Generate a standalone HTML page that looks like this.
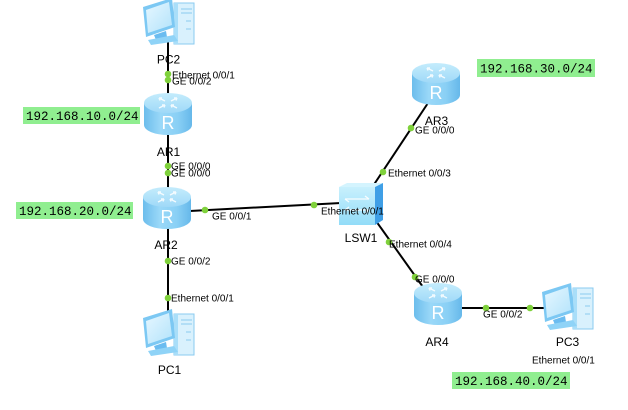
<!DOCTYPE html>
<html><head><meta charset="utf-8"><style>
html,body{margin:0;padding:0;background:#fff;}
svg{display:block;}
.p{font-family:"Liberation Sans",Arial,sans-serif;font-size:10px;fill:#000;}
.n{font-family:"Liberation Sans",Arial,sans-serif;font-size:12px;fill:#000;}
.m{font-family:"Liberation Mono",monospace;font-size:12.5px;fill:#000;}
</style></head><body>
<svg width="628" height="410" viewBox="0 0 628 410" xmlns="http://www.w3.org/2000/svg">
<defs>
<linearGradient id="rb" x1="0" y1="0" x2="1" y2="0">
<stop offset="0" stop-color="#6cbdec"/><stop offset="0.35" stop-color="#9ad8f8"/><stop offset="0.7" stop-color="#8ad0f5"/><stop offset="1" stop-color="#66b8ea"/>
</linearGradient>
<linearGradient id="rt" x1="0" y1="0" x2="0" y2="1">
<stop offset="0" stop-color="#c4ecfc"/><stop offset="1" stop-color="#9fd9f8"/>
</linearGradient>
<linearGradient id="sc" x1="0" y1="0" x2="1" y2="1">
<stop offset="0" stop-color="#e6f7ff"/><stop offset="1" stop-color="#b3e3fb"/>
</linearGradient>
<linearGradient id="sw" x1="0" y1="0" x2="0" y2="1">
<stop offset="0" stop-color="#c8f0fd"/><stop offset="1" stop-color="#92dcf8"/>
</linearGradient>
<g id="router">
<path d="M0,10 L0,32 A24,10 0 0 0 48,32 L48,10 Z" fill="url(#rb)"/>
<ellipse cx="24" cy="10" rx="24" ry="10" fill="url(#rt)"/>
<g stroke="#fff" stroke-width="1.4" fill="none" opacity="0.85">
<path d="M15,5 L21,8 M15,5 l3,0 M15,5 l1,2.5"/>
<path d="M33,5 L27,8 M33,5 l-3,0 M33,5 l-1,2.5"/>
<path d="M15,15 L21,12 M21,12 l-3,0 M21,12 l-1,2.5"/>
<path d="M33,15 L27,12 M27,12 l3,0 M27,12 l1,2.5"/>
</g>
<text x="24" y="36" font-family="Liberation Sans,Arial,sans-serif" font-size="18" fill="#fff" text-anchor="middle">R</text>
</g>
<g id="pc">
<rect x="38" y="8" width="20" height="41" fill="#d9f1fd" stroke="#8acbf0" stroke-width="1"/>
<rect x="38" y="8" width="4" height="41" fill="#a9def9"/>
<path d="M45,14 H56 M45,18 H56 M50,26 H55 M50,34 H55" stroke="#8acbf0" stroke-width="1"/>
<polygon points="7,12 36,3 39,32 10,42" fill="#7cc8f3"/>
<polygon points="10,15 33,7 36,30 12,38" fill="url(#sc)"/>
<polygon points="18,40 30,36 31,42 20,45" fill="#6bbcf0"/>
<polygon points="12,45 38,40 42,46 15,50" fill="#8fd3f7"/>
</g>
</defs>

<!-- connectors -->
<g stroke="#000" stroke-width="2" fill="none">
<line x1="168" y1="38" x2="168" y2="316"/>
<line x1="190" y1="211" x2="341" y2="203"/>
<line x1="373" y1="186" x2="428" y2="103"/>
<line x1="376" y1="221" x2="423" y2="287"/>
<line x1="460" y1="308" x2="545" y2="308"/>
</g>

<!-- devices -->
<use href="#pc" x="136" y="-5"/>
<use href="#pc" x="136" y="306"/>
<use href="#pc" x="535" y="280"/>
<use href="#router" x="144" y="93"/>
<use href="#router" x="143" y="187"/>
<use href="#router" x="412" y="63"/>
<use href="#router" x="414" y="283"/>

<!-- switch -->
<g transform="translate(339,183)">
<polygon points="0,4 8,0 44,0 36,4" fill="#d4f4fe"/>
<rect x="0" y="4" width="36" height="38" fill="url(#sw)"/>
<polygon points="36,4 44,0 44,37 36,42" fill="#3f9fe6"/>
<g stroke="#fff" stroke-width="1.3" fill="none" opacity="0.9">
<path d="M6,16 H30 M26,13 L30,16 M10,19 L6,16"/>
<path d="M6,27 H30 M10,24 L6,27 M26,30 L30,27"/>
</g>
</g>

<!-- port dots -->
<g fill="#7fd13b">
<circle cx="168" cy="74" r="3.3"/>
<circle cx="168" cy="80" r="3.3"/>
<circle cx="168" cy="166" r="3.3"/>
<circle cx="168" cy="173" r="3.3"/>
<circle cx="205" cy="210" r="3.3"/>
<circle cx="168" cy="261" r="3.3"/>
<circle cx="168" cy="298" r="3.3"/>
<circle cx="314" cy="205" r="3.3"/>
<circle cx="383" cy="172" r="3.3"/>
<circle cx="411" cy="128" r="3.3"/>
<circle cx="389" cy="242" r="3.3"/>
<circle cx="415" cy="277" r="3.3"/>
<circle cx="486" cy="308" r="3.3"/>
<circle cx="530" cy="308" r="3.3"/>
</g>

<!-- device names -->
<text class="n" x="168.5" y="63.5" text-anchor="middle">PC2</text>
<text class="n" x="168.5" y="156" text-anchor="middle">AR1</text>
<text class="n" x="166" y="249" text-anchor="middle">AR2</text>
<text class="n" x="169.5" y="374" text-anchor="middle">PC1</text>
<text class="n" x="361" y="242" text-anchor="middle">LSW1</text>
<text class="n" x="436.5" y="125" text-anchor="middle">AR3</text>
<text class="n" x="437" y="346" text-anchor="middle">AR4</text>
<text class="n" x="567.5" y="346" text-anchor="middle">PC3</text>

<!-- port labels -->
<text class="p" x="172" y="78.5">Ethernet 0/0/1</text>
<text class="p" x="172" y="84.5">GE 0/0/2</text>
<text class="p" x="171" y="169.5">GE 0/0/0</text>
<text class="p" x="171" y="176.5">GE 0/0/0</text>
<text class="p" x="212" y="219.5">GE 0/0/1</text>
<text class="p" x="171" y="264.5">GE 0/0/2</text>
<text class="p" x="171" y="301.5">Ethernet 0/0/1</text>
<text class="p" x="321" y="214.5">Ethernet 0/0/1</text>
<text class="p" x="388" y="176.5">Ethernet 0/0/3</text>
<text class="p" x="415" y="133.5">GE 0/0/0</text>
<text class="p" x="389" y="247.5">Ethernet 0/0/4</text>
<text class="p" x="415" y="282.5">GE 0/0/0</text>
<text class="p" x="483" y="317.5">GE 0/0/2</text>
<text class="p" x="532" y="363.5">Ethernet 0/0/1</text>

<!-- subnet labels -->
<rect x="23" y="107" width="117" height="17" fill="#90ee90"/>
<text class="m" x="26" y="120">192.168.10.0/24</text>
<rect x="16" y="202" width="117" height="17" fill="#90ee90"/>
<text class="m" x="19" y="215">192.168.20.0/24</text>
<rect x="477" y="59" width="118" height="18" fill="#90ee90"/>
<text class="m" x="480" y="72.5">192.168.30.0/24</text>
<rect x="452" y="372" width="118" height="17" fill="#90ee90"/>
<text class="m" x="455" y="385">192.168.40.0/24</text>
</svg>
</body></html>
